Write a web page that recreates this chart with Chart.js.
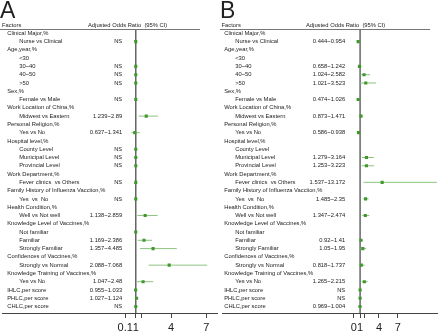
<!DOCTYPE html>
<html><head><meta charset="utf-8">
<script src="https://cdn.jsdelivr.net/npm/chart.js@4.4.1/dist/chart.umd.min.js"></script>
<style>
html,body{margin:0;padding:0;background:#fff;}
#wrap{position:relative;width:440px;height:334px;overflow:hidden;font-family:"Liberation Sans",Arial,sans-serif;color:#222;}
.panel{position:absolute;top:0;width:220px;height:334px;}
.panel canvas{position:absolute;left:0;top:0;}
.letter{position:absolute;top:-3px;font-size:23px;line-height:26px;}
.hdr{position:absolute;top:21.5px;font-size:5.8px;line-height:7px;white-space:pre;}
.rule{position:absolute;top:29px;height:1px;background:#777;}
</style></head>
<body>
<div id="wrap">
  <div class="panel" style="left:0">
    <canvas id="cA" width="220" height="334"></canvas>
    <div class="letter" style="left:0">A</div>
    <div class="hdr" style="left:2px">Factors</div>
    <div class="hdr" style="left:88px">Adjusted Odds Ratio  (95% CI)</div>
    <div class="rule" style="left:0;width:200px"></div>
  </div>
  <div class="panel" style="left:220px">
    <canvas id="cB" width="220" height="334"></canvas>
    <div class="letter" style="left:0">B</div>
    <div class="hdr" style="left:1.5px">Factors</div>
    <div class="hdr" style="left:86px">Adjusted Odds Ratio  (95% CI)</div>
    <div class="rule" style="left:0;width:210px"></div>
  </div>
</div>
<script>
// ---------- data ----------
const factors = [
  "Clinical Major,%", "Nurse vs Clinical", "Age,year,%", "<30", "30~40", "40~50", ">50",
  "Sex,%", "Female vs Male", "Work Location of China,%", "Midwest vs Eastern",
  "Personal Religion,%", "Yes vs No", "Hospital level,%", "County Level", "Municipal Level",
  "Provincial Level", "Work Department,%", "Fever clinics  vs Others",
  "Family History of Influenza Vacciion,%", "Yes  vs  No", "Health Condition,%",
  "Well vs Not well", "Knowledge Level of Vaccines,%", "Not familiar", "Familiar",
  "Strongly Familiar", "Confidences of Vaccines,%", "Strongly vs Normal",
  "Knowledge Training of Vaccines,%", "Yes vs No", "IHLC,per score", "PHLC,per score", "CHLC,per score"
];
const topLevelRows = [
  "Clinical Major,%", "Age,year,%", "Sex,%", "Work Location of China,%", "Personal Religion,%",
  "Hospital level,%", "Work Department,%", "Family History of Influenza Vacciion,%",
  "Health Condition,%", "Knowledge Level of Vaccines,%", "Confidences of Vaccines,%",
  "Knowledge Training of Vaccines,%", "IHLC,per score", "PHLC,per score", "CHLC,per score"
];

// Panel A
const ciTextA = ["", "NS", "", "", "NS", "NS", "NS", "", "NS", "", "1.239~2.89", "", "0.637~1.341",
  "", "NS", "NS", "NS", "", "NS", "", "NS", "", "1.138~2.859", "", "", "1.169~2.386", "1.357~4.485",
  "", "2.088~7.068", "", "1.047~2.48", "0.955~1.033", "1.027~1.124", "NS"];
const orA   = [null, 1, null, null, 1, 1, 1, null, 1, null, 1.89, null, 0.92, null, 1, 1, 1, null, 1,
  null, 1, null, 1.8, null, 1, 1.7, 2.47, null, 3.84, null, 1.62, 0.99, 1.07, 1];
const lowA  = [null, null, null, null, null, null, null, null, null, null, 1.239, null, 0.637, null, null,
  null, null, null, null, null, null, null, 1.138, null, null, 1.169, 1.357, null, 2.088, null, 1.047,
  0.955, 1.027, null];
const highA = [null, null, null, null, null, null, null, null, null, null, 2.89, null, 1.341, null, null,
  null, null, null, null, null, null, null, 2.859, null, null, 2.386, 4.485, null, 7.068, null, 2.48,
  1.033, 1.124, null];
const tickValsA = [0.1, 1, 1.5, 4, 7];
const tickLabelsA = ["0.1", "1", "", "4", "7"];

// Panel B
const ciTextB = ["", "0.444~0.954", "", "", "0.658~1.242", "1.024~2.582", "1.021~3.523", "",
  "0.474~1.026", "", "0.873~1.471", "", "0.586~0.938", "", "", "1.279~3.164", "1.253~3.223", "",
  "1.537~13.172", "", "1.485~2.35", "", "1.347~2.474", "", "", "0.92~1.41", "1.05~1.95", "",
  "0.818~1.737", "", "1.265~2.215", "NS", "NS", "0.969~1.004"];
const orB   = [null, 0.7, null, null, 0.9, 1.63, 1.9, null, 0.7, null, 1.13, null, 0.74, null, null,
  2.01, 2.01, null, 4.5, null, 1.87, null, 1.83, null, null, 1.14, 1.43, null, 1.19, null, 1.67, 1, 1, 0.99];
const lowB  = [null, 0.444, null, null, 0.658, 1.024, 1.021, null, 0.474, null, 0.873, null, 0.586, null,
  null, 1.279, 1.253, null, 1.537, null, 1.485, null, 1.347, null, null, 0.92, 1.05, null, 0.818, null,
  1.265, null, null, 0.969];
const highB = [null, 0.954, null, null, 1.242, 2.582, 3.523, null, 1.026, null, 1.471, null, 0.938, null,
  null, 3.164, 3.223, null, 13.172, null, 2.35, null, 2.474, null, null, 1.41, 1.95, null, 1.737, null,
  2.215, null, null, 1.004];
const tickValsB = [0, 1, 1.7, 4, 7];
const tickLabelsB = ["0", "1", "", "4", "7"];

// ---------- drawing ----------
const FAMILY = '"Liberation Sans", Arial, sans-serif';
const SMALL = 5.8;
const Y_MIN = -0.52, Y_MAX = 33.78;
const topSet = new Set(topLevelRows);

function widest(labels, size) {
  const c = document.createElement('canvas').getContext('2d');
  c.font = 'normal ' + size + 'px ' + FAMILY;
  return Math.max(...labels.map(l => c.measureText(l).width));
}

function zeroPad(s) {
  s.paddingTop = 0; s.paddingBottom = 0; s.paddingLeft = 0; s.paddingRight = 0;
}

function rowAxis(padding, cb) {
  return {
    type: 'linear', position: 'left', reverse: true, min: Y_MIN, max: Y_MAX,
    grid: {display: false}, border: {display: false},
    afterBuildTicks: s => { s.ticks = factors.map((_, i) => ({value: i})); },
    afterFit: s => { s.width = 0; zeroPad(s); },
    ticks: {mirror: true, padding: padding, autoSkip: false, color: '#222',
      font: {size: SMALL, family: FAMILY}, callback: cb}
  };
}

function makePanel(id, p) {
  const points = [];
  p.or.forEach((v, i) => { if (v !== null) points.push({x: v, y: i}); });
  const segs = [];
  p.low.forEach((lo, i) => {
    if (lo !== null) { segs.push({x: lo, y: i}, {x: p.high[i], y: i}, {x: null, y: null}); }
  });
  const ciW = widest(p.ci, SMALL);
  const ciAxis = rowAxis(p.ciRight - ciW, v => p.ci[v] || '');
  ciAxis.ticks.crossAlign = 'far';
  return new Chart(document.getElementById(id), {
    type: 'scatter',
    data: {datasets: [
      {label: 'OR', data: points, pointStyle: 'rect', pointRadius: 2.2, pointHoverRadius: 2.2,
       backgroundColor: '#3f982c', borderWidth: 0, showLine: false},
      {label: 'CI', data: segs, showLine: true, spanGaps: false, borderColor: '#8cc47f',
       borderWidth: 1, pointRadius: 0},
      {label: 'ref', data: [{x: 1, y: Y_MIN}, {x: 1, y: Y_MAX}], showLine: true,
       borderColor: '#666', borderWidth: 1.5, pointRadius: 0}
    ]},
    options: {
      responsive: false, animation: false, devicePixelRatio: 1,
      layout: {padding: {top: 29, left: 0, right: 0, bottom: 0}},
      plugins: {legend: {display: false}, tooltip: {enabled: false}},
      scales: {
        x: {type: 'linear', position: 'bottom', min: p.xmin, max: p.xmax,
          grid: {display: true, drawOnChartArea: false, drawTicks: true, tickLength: 5,
                 color: '#444', tickColor: '#444'},
          border: {display: true, color: '#444', width: 1},
          afterBuildTicks: s => { s.ticks = p.tickVals.map(v => ({value: v})); },
          afterFit: s => { s.height = 21; zeroPad(s); },
          ticks: {autoSkip: false, maxRotation: 0, padding: 3, color: '#222',
                  font: {size: 11, family: FAMILY}, callback: (v, i) => p.tickLabels[i]}
        },
        y: rowAxis(p.padG, v => topSet.has(factors[v]) ? factors[v] : ''),
        yItem: rowAxis(p.padI, v => topSet.has(factors[v]) ? '' : factors[v]),
        yCI: ciAxis
      }
    }
  });
}

makePanel('cA', {or: orA, low: lowA, high: highA, ci: ciTextA, tickVals: tickValsA,
  tickLabels: tickLabelsA, xmin: -10.358, xmax: 7.975, padG: 5, padI: 17, ciRight: 120});
makePanel('cB', {or: orB, low: lowB, high: highB, ci: ciTextB, tickVals: tickValsB,
  tickLabels: tickLabelsB, xmin: -20.88, xmax: 13.33, padG: 2, padI: 13, ciRight: 123});
</script>
</body></html>
